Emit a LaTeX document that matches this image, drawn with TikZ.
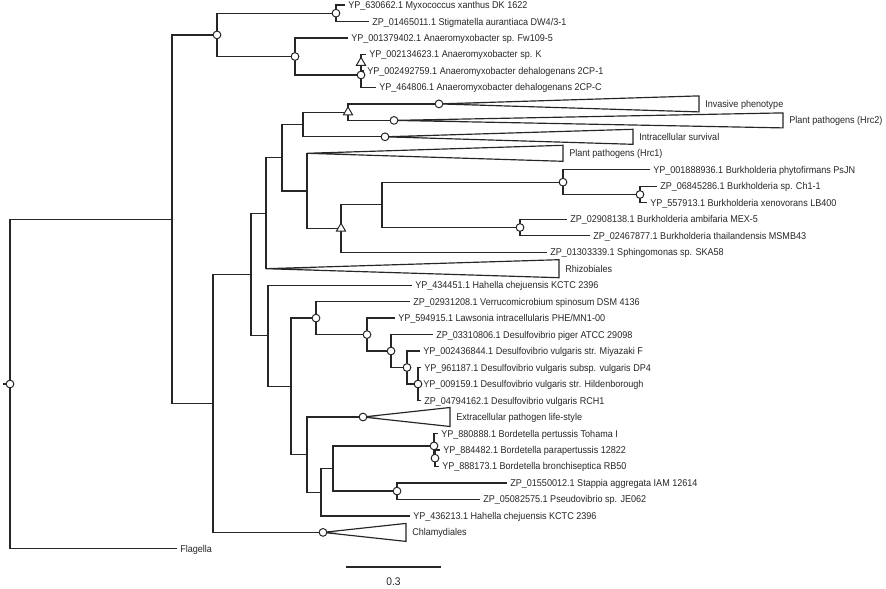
\documentclass[tikz,border=0pt]{standalone}
\usepackage{fontspec}
\setmainfont[FakeStretch=0.92]{Liberation Sans}
\usetikzlibrary{shapes.geometric}
\definecolor{lc}{HTML}{262626}
\definecolor{tc}{HTML}{262626}
\pgfdeclarehorizontalshading{cladefade}{100bp}{color(0bp)=(lc); color(25bp)=(lc); color(34bp)=(white); color(100bp)=(white)}
\begin{document}
\begin{tikzpicture}[x=0.03cm,y=-0.03cm,
  br/.style={draw=lc,line width=1.1pt},
  lbl/.style={text=tc,font=\fontsize{8.4}{9}\selectfont,inner xsep=2.6pt,inner ysep=0.5pt,anchor=west,text height=6pt,text depth=0pt},
  cn/.style={circle,draw=lc,fill=white,line width=0.85pt,inner sep=0pt,minimum size=6.6pt},
  tn/.style={regular polygon,regular polygon sides=3,draw=lc,fill=white,line width=0.85pt,inner sep=0pt,minimum size=9pt},
  clade/.style={draw=lc,line width=1pt,shading=cladefade}]
\useasboundingbox (0,0) rectangle (886,589);
% internal nodes
\coordinate (R0) at (3,384);
\coordinate (R) at (10,384);
\coordinate (I) at (172,219.2);
\coordinate (M) at (217,34.9);
\coordinate (MX) at (336,13.2);
\coordinate (A) at (295,56.5);
\coordinate (C) at (361,75);
\coordinate (T) at (361,62.7);
\coordinate (J) at (213,403.5);
\coordinate (K) at (251,274.5);
\coordinate (L) at (266,213.2);
\coordinate (P) at (282,157.7);
\coordinate (Q) at (303,124.5);
\coordinate (U) at (348,112.2);
\coordinate (IP) at (439,103.9);
\coordinate (PH2) at (394,120.4);
\coordinate (IS) at (385,136.8);
\coordinate (S) at (307,190.9);
\coordinate (H1) at (307,153.3);
\coordinate (V) at (341,228.5);
\coordinate (W) at (382,204.8);
\coordinate (B1) at (563,182.2);
\coordinate (B3) at (640,194.5);
\coordinate (B2) at (520,227.5);
\coordinate (RH) at (266,268.7);
\coordinate (N) at (268,335.8);
\coordinate (O) at (291,386.3);
\coordinate (D1) at (316,318.1);
\coordinate (D2) at (367,334.6);
\coordinate (D3) at (391,351);
\coordinate (D4) at (407,367.5);
\coordinate (D5) at (418,384);
\coordinate (X) at (307,454.6);
\coordinate (EX) at (363,417);
\coordinate (Y) at (321,492.2);
\coordinate (Z) at (333,468.5);
\coordinate (BO) at (434,445.9);
\coordinate (BO2) at (435,458.2);
\coordinate (SP) at (397,491.1);
\coordinate (CH) at (323,532.4);
% tip labels
\node[lbl] (t1) at (345,5) {YP\_630662.1 Myxococcus xanthus DK 1622};
\node[lbl] (t2) at (369,21.5) {ZP\_01465011.1 Stigmatella aurantiaca DW4/3-1};
\node[lbl] (t3) at (348,38) {YP\_001379402.1 Anaeromyxobacter sp. Fw109-5};
\node[lbl] (t4) at (366,54.4) {YP\_002134623.1 Anaeromyxobacter sp. K};
\node[lbl] (t5) at (364,70.9) {YP\_002492759.1 Anaeromyxobacter dehalogenans 2CP-1};
\node[lbl] (t6) at (376,87.4) {YP\_464806.1 Anaeromyxobacter dehalogenans 2CP-C};
\node[lbl] (t11) at (650,169.8) {YP\_001888936.1 Burkholderia phytofirmans PsJN};
\node[lbl] (t12) at (657,186.3) {ZP\_06845286.1 Burkholderia sp. Ch1-1};
\node[lbl] (t13) at (647,202.8) {YP\_557913.1 Burkholderia xenovorans LB400};
\node[lbl] (t14) at (567,219.2) {ZP\_02908138.1 Burkholderia ambifaria MEX-5};
\node[lbl] (t15) at (590,235.7) {ZP\_02467877.1 Burkholderia thailandensis MSMB43};
\node[lbl] (t16) at (547,252.2) {ZP\_01303339.1 Sphingomonas sp. SKA58};
\node[lbl] (t18) at (412,285.2) {YP\_434451.1 Hahella chejuensis KCTC 2396};
\node[lbl] (t19) at (410,301.6) {ZP\_02931208.1 Verrucomicrobium spinosum DSM 4136};
\node[lbl] (t20) at (395,318.1) {YP\_594915.1 Lawsonia intracellularis PHE/MN1-00};
\node[lbl] (t21) at (433,334.6) {ZP\_03310806.1 Desulfovibrio piger ATCC 29098};
\node[lbl] (t22) at (420,351.1) {YP\_002436844.1 Desulfovibrio vulgaris str. Miyazaki F};
\node[lbl] (t23) at (421,367.6) {YP\_961187.1 Desulfovibrio vulgaris subsp. vulgaris DP4};
\node[lbl] (t24) at (420,384) {YP\_009159.1 Desulfovibrio vulgaris str. Hildenborough};
\node[lbl] (t25) at (421,400.5) {ZP\_04794162.1 Desulfovibrio vulgaris RCH1};
\node[lbl] (t27) at (438,433.5) {YP\_880888.1 Bordetella pertussis Tohama I};
\node[lbl] (t28) at (440,450) {YP\_884482.1 Bordetella parapertussis 12822};
\node[lbl] (t29) at (439,466.4) {YP\_888173.1 Bordetella bronchiseptica RB50};
\node[lbl] (t30) at (507,482.9) {ZP\_01550012.1 Stappia aggregata IAM 12614};
\node[lbl] (t31) at (480,499.4) {ZP\_05082575.1 Pseudovibrio sp. JE062};
\node[lbl] (t32) at (410,515.9) {YP\_436213.1 Hahella chejuensis KCTC 2396};
\node[lbl] (t34) at (177,548.8) {Flagella};
% branches
\draw[br] (R0) -- (R);
\draw[br] (R) |- (I);
\draw[br] (R) |- (t34.west);
\draw[br] (I) |- (M);
\draw[br] (I) |- (J);
\draw[br] (M) |- (MX);
\draw[br] (M) |- (A);
\draw[br] (MX) |- (t1.west);
\draw[br] (MX) |- (t2.west);
\draw[br] (A) |- (t3.west);
\draw[br] (A) |- (C);
\draw[br] (C) -- (T);
\draw[br] (C) |- (t6.west);
\draw[br] (T) |- (t4.west);
\draw[br] (T) |- (t5.west);
\draw[br] (J) |- (K);
\draw[br] (J) |- (CH);
\draw[br] (K) |- (L);
\draw[br] (K) |- (N);
\draw[br] (L) |- (P);
\draw[br] (L) |- (RH);
\draw[br] (P) |- (Q);
\draw[br] (P) |- (S);
\draw[br] (Q) |- (U);
\draw[br] (Q) |- (IS);
\draw[br] (U) |- (IP);
\draw[br] (U) |- (PH2);
\draw[br] (S) |- (H1);
\draw[br] (S) |- (V);
\draw[br] (V) |- (W);
\draw[br] (V) |- (t16.west);
\draw[br] (W) |- (B1);
\draw[br] (W) |- (B2);
\draw[br] (B1) |- (t11.west);
\draw[br] (B1) |- (B3);
\draw[br] (B3) |- (t12.west);
\draw[br] (B3) |- (t13.west);
\draw[br] (B2) |- (t14.west);
\draw[br] (B2) |- (t15.west);
\draw[br] (N) |- (t18.west);
\draw[br] (N) |- (O);
\draw[br] (O) |- (D1);
\draw[br] (O) |- (X);
\draw[br] (D1) |- (t19.west);
\draw[br] (D1) |- (D2);
\draw[br] (D2) |- (t20.west);
\draw[br] (D2) |- (D3);
\draw[br] (D3) |- (t21.west);
\draw[br] (D3) |- (D4);
\draw[br] (D4) |- (t22.west);
\draw[br] (D4) |- (D5);
\draw[br] (D5) |- (t23.west);
\draw[br] (D5) |- (t24.west);
\draw[br] (D5) |- (t25.west);
\draw[br] (X) |- (EX);
\draw[br] (X) |- (Y);
\draw[br] (Y) |- (Z);
\draw[br] (Y) |- (t32.west);
\draw[br] (Z) |- (BO);
\draw[br] (Z) |- (SP);
\draw[br] (BO) |- (t27.west);
\draw[br] (BO) |- (BO2);
\draw[br] (BO2) |- (t28.west);
\draw[br] (BO2) |- (t29.west);
\draw[br] (SP) |- (t30.west);
\draw[br] (SP) |- (t31.west);
% collapsed clades
\shadedraw[clade] (IP) -- ++(260,-8) -- ++(0,16) -- cycle;
\shadedraw[clade] (PH2) -- ++(389,-7.5) -- ++(0,15) -- cycle;
\shadedraw[clade] (IS) -- ++(248,-7.5) -- ++(0,15) -- cycle;
\shadedraw[clade] (H1) -- ++(256,-8) -- ++(0,16) -- cycle;
\shadedraw[clade] (RH) -- ++(293,-9) -- ++(0,18) -- cycle;
\shadedraw[clade] (EX) -- ++(87,-9.5) -- ++(0,19) -- cycle;
\shadedraw[clade] (CH) -- ++(83,-9) -- ++(0,18) -- cycle;
\node[lbl] (c7) at (702,103.9) {Invasive phenotype};
\node[lbl] (c8) at (786,120.4) {Plant pathogens (Hrc2)};
\node[lbl] (c9) at (636,136.8) {Intracellular survival};
\node[lbl] (c10) at (566,153.3) {Plant pathogens (Hrc1)};
\node[lbl] (c17) at (562,268.7) {Rhizobiales};
\node[lbl] (c26) at (453,417) {Extracellular pathogen life-style};
\node[lbl] (c33) at (409,532.4) {Chlamydiales};
% node markers
\foreach \n in {R,M,MX,A,C,IP,PH2,IS,B1,B3,B2,D1,D2,D3,D4,D5,EX,BO,BO2,SP,CH}
  \node[cn] (m\n) at (\n) {};
\foreach \n in {T,U,V}
  \node[tn] (m\n) at (\n) {};
% scale bar
\coordinate (sb1) at (346,567);
\coordinate (sb2) at (441,567);
\draw[br] (sb1) -- (sb2);
\node[lbl,anchor=center,font=\fontsize{9.5}{10}\selectfont] (sbl) at (393.5,582) {0.3};
\end{tikzpicture}
\end{document}
